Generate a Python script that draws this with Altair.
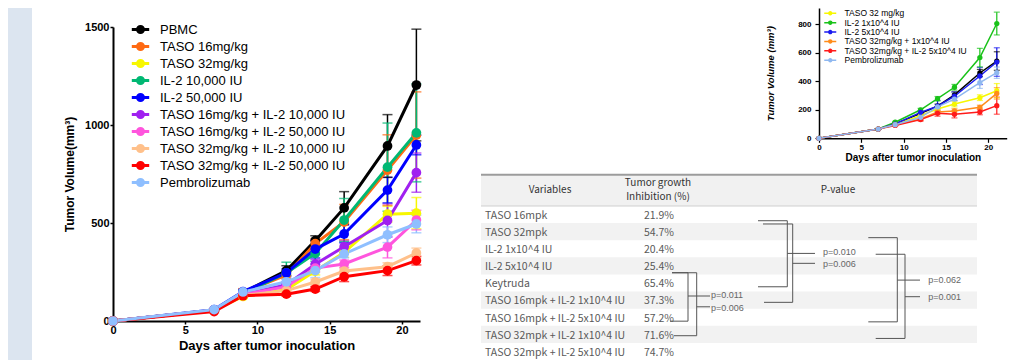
import altair as alt
import pandas as pd

# ---------------- data ----------------
DAYS = [0, 7, 9, 12, 14, 16, 19, 21]

MAIN_GROUPS = ["PBMC", "TASO 16mg/kg", "TASO 32mg/kg", "IL-2 10,000 IU", "IL-2 50,000 IU",
               "TASO 16mg/kg + IL-2 10,000 IU", "TASO 16mg/kg + IL-2 50,000 IU",
               "TASO 32mg/kg + IL-2 10,000 IU", "TASO 32mg/kg + IL-2 50,000 IU", "Pembrolizumab"]
MAIN_COLORS = ["#000000", "#ff6a13", "#f7f700", "#00b873", "#0000ff",
               "#a020f0", "#ff55dd", "#ffc08a", "#ff0000", "#8fbfff"]
MAIN_MEAN = [
    [0, 55, 145, 257, 410, 577, 893, 1204],
    [0, 55, 145, 235, 395, 505, 770, 949],
    [0, 55, 125, 160, 255, 350, 545, 550],
    [0, 55, 140, 245, 345, 515, 785, 960],
    [0, 58, 150, 246, 367, 444, 668, 898],
    [0, 55, 135, 185, 290, 379, 513, 757],
    [0, 55, 135, 175, 270, 291, 377, 515],
    [0, 55, 130, 155, 199, 255, 277, 347],
    [0, 48, 129, 137, 163, 226, 257, 308],
    [0, 58, 148, 200, 257, 342, 440, 495],
]
MAIN_SEM = [
    [0, 5, 15, 25, 25, 83, 160, 285],
    [0, 5, 20, 20, 25, 90, 180, 220],
    [0, 5, 10, 15, 20, 25, 40, 80],
    [0, 5, 15, 55, 40, 110, 225, 250],
    [0, 5, 10, 20, 45, 45, 65, 50],
    [0, 5, 10, 15, 25, 30, 85, 100],
    [0, 5, 10, 15, 20, 20, 55, 50],
    [0, 5, 10, 10, 15, 20, 20, 25],
    [0, 5, 8, 10, 12, 25, 25, 22],
    [0, 5, 10, 15, 35, 20, 40, 45],
]

SMALL_GROUPS = ["PBMC", "TASO 32 mg/kg", "IL-2 1x10^4 IU", "IL-2 5x10^4 IU",
                "TASO 32mg/kg + 1x10^4 IU", "TASO 32mg/kg + IL-2 5x10^4 IU", "Pembrolizumab"]
SMALL_COLORS = ["#000000", "#f7f700", "#19c219", "#1a1af0", "#ff8c1a", "#ff1a1a", "#8fb8f0"]
SMALL_MEAN = [
    [0, 65, 100, 175, 225, 305, 458, 542],
    [0, 65, 95, 160, 205, 240, 285, 334],
    [0, 65, 113, 200, 278, 358, 566, 805],
    [0, 65, 100, 182, 225, 295, 437, 535],
    [0, 65, 95, 135, 185, 192, 217, 315],
    [0, 65, 90, 131, 175, 168, 185, 229],
    [0, 65, 95, 147, 220, 275, 390, 460],
]
SMALL_SEM = [
    [0, 3, 5, 10, 15, 20, 25, 65],
    [0, 3, 5, 10, 15, 20, 20, 50],
    [0, 3, 5, 10, 15, 20, 65, 80],
    [0, 3, 5, 10, 40, 30, 60, 100],
    [0, 3, 5, 10, 15, 15, 15, 40],
    [0, 3, 5, 10, 20, 25, 20, 60],
    [0, 3, 5, 10, 15, 45, 40, 40],
]

TABLE_VARIABLES = ["TASO 16mpk", "TASO 32mpk", "IL-2 1x10^4 IU", "IL-2 5x10^4 IU", "Keytruda",
                   "TASO 16mpk + IL-2 1x10^4 IU", "TASO 16mpk + IL-2 5x10^4 IU",
                   "TASO 32mpk + IL-2 1x10^4 IU", "TASO 32mpk + IL-2 5x10^4 IU"]
TABLE_TGI = ["21.9%", "54.7%", "20.4%", "25.4%", "65.4%", "37.3%", "57.2%", "71.6%", "74.7%"]

P_LABELS = ["p=0.011", "p=0.006", "p=0.010", "p=0.006", "p=0.062", "p=0.001"]
BRACKET_TOP = [4.4, 4.4, 1.36, 1.55, 2.35, 3.32]
BRACKET_BOTTOM = [7.23, 8.08, 5.22, 6.13, 7.27, 8.24]
BRACKET_MID = [5.76, 6.39, 3.27, 3.85, 4.83, 5.8]

# ---------------- layout constants ----------------
FONT = "Liberation Sans"
TFONT = "Noto Sans CJK KR"
# bracket geometry (table x units): left end top, left end bottom, vertical, tick end, label x
BR_GEOM = [(191, 189, 207, 229, 230), (191, 193, 215.7, 229, 230),
           (277, 277, 306.3, 334, 342), (282, 283, 311.7, 334, 342),
           (387.3, 387.3, 416.3, 439, 447.3), (394.7, 394.7, 424, 439, 447.3)]
LABEL_NUDGE = [-0.05, 0.05, -0.06, 0.06, 0.0, 0.0]


def long_df(groups, means, sems):
    rows = []
    for gi, g in enumerate(groups):
        for d, m, s in zip(DAYS, means[gi], sems[gi]):
            rows.append({"group": g, "order": gi, "day": d, "mean": m,
                         "lo": m - s, "hi": m + s, "sem": s})
    return pd.DataFrame(rows)


def series_layers(df, groups, colors, xd, xr, yd, yr, xaxis, yaxis, legend,
                  line_w, pt_size, cap_w, err_w):
    def xs():
        return alt.Scale(domain=xd, range=xr, nice=False, zero=False)

    def ys():
        return alt.Scale(domain=yd, range=yr, nice=False, zero=False)

    def cs():
        return alt.Scale(domain=groups, range=colors)

    base = alt.Chart(df)
    err = base.transform_filter("datum.sem > 0")
    rules = err.mark_rule(strokeWidth=err_w).encode(
        x=alt.X("day:Q", scale=xs(), axis=xaxis),
        y=alt.Y("lo:Q", scale=ys(), axis=yaxis),
        y2="hi:Q",
        color=alt.Color("group:N", scale=cs(), legend=None))
    cap_hi = err.mark_tick(orient="horizontal", size=cap_w, thickness=err_w).encode(
        x=alt.X("day:Q", scale=xs(), axis=None), y=alt.Y("hi:Q", scale=ys(), axis=None),
        color=alt.Color("group:N", scale=cs(), legend=None))
    cap_lo = err.mark_tick(orient="horizontal", size=cap_w, thickness=err_w).encode(
        x=alt.X("day:Q", scale=xs(), axis=None), y=alt.Y("lo:Q", scale=ys(), axis=None),
        color=alt.Color("group:N", scale=cs(), legend=None))
    line = base.mark_line(strokeWidth=line_w).encode(
        x=alt.X("day:Q", scale=xs(), axis=None), y=alt.Y("mean:Q", scale=ys(), axis=None),
        color=alt.Color("group:N", scale=cs(), legend=legend))
    pts = base.mark_circle(size=pt_size, opacity=1).encode(
        x=alt.X("day:Q", scale=xs(), axis=None), y=alt.Y("mean:Q", scale=ys(), axis=None),
        color=alt.Color("group:N", scale=cs(), legend=None))
    return [rules, cap_hi, cap_lo, line, pts]


# ---------------- main chart ----------------
main_df = long_df(MAIN_GROUPS, MAIN_MEAN, MAIN_SEM)
PATH_MAIN = ("M-2,0H2M0.69,0A0.69,0.69,0,1,1,-0.69,0A0.69,0.69,0,1,1,0.69,0"
             "M0.345,0A0.345,0.345,0,1,1,-0.345,0A0.345,0.345,0,1,1,0.345,0")
main_axis_common = dict(labelFont=FONT, labelFontSize=11, labelFontWeight="bold", labelColor="black",
                        titleFont=FONT, titleFontWeight="bold", titleColor="black",
                        domainColor="black", domainWidth=2, tickColor="black", tickWidth=1.5,
                        tickSize=3, grid=False, labelFlush=False, labelOverlap=False, format="d")
main_layers = series_layers(
    main_df, MAIN_GROUPS, MAIN_COLORS,
    [0, 21.25], [105, 412], [0, 1500], [313, 19],
    alt.Axis(orient="bottom", offset=-39, values=[0, 5, 10, 15, 20], title="Days after tumor inoculation",
             titleFontSize=13, titlePadding=4, labelPadding=0, **main_axis_common),
    alt.Axis(orient="left", offset=-105, values=[0, 500, 1000, 1500], title="Tumor Volume(mm³)",
             titleFontSize=12, titlePadding=8, labelPadding=1, **main_axis_common),
    alt.Legend(orient="none", legendX=126, legendY=15, title=None, symbolType=PATH_MAIN,
               symbolSize=75.7, symbolStrokeWidth=3, labelFont=FONT, labelFontSize=13,
               labelColor="black", labelOffset=13, rowPadding=-2, labelLimit=400, padding=0),
    line_w=3, pt_size=95, cap_w=10, err_w=1.5)

# ---------------- small chart ----------------
small_df = long_df(SMALL_GROUPS, SMALL_MEAN, SMALL_SEM)
PATH_SMALL = ("M-2,0H2M0.5,0A0.5,0.5,0,1,1,-0.5,0A0.5,0.5,0,1,1,0.5,0"
              "M0.2,0A0.2,0.2,0,1,1,-0.2,0A0.2,0.2,0,1,1,0.2,0")
small_axis_common = dict(labelFont=FONT, labelFontSize=8, labelFontWeight="bold", labelColor="black",
                         titleFont=FONT, titleFontWeight="bold", titleColor="black",
                         domainColor="black", domainWidth=1.5, tickColor="black", tickWidth=1.2,
                         tickSize=4, grid=False, labelFlush=False, labelOverlap=False, format="d")
small_layers = series_layers(
    small_df, SMALL_GROUPS, SMALL_COLORS,
    [0, 22.17], [811, 998.7], [0, 914], [130.3, 0],
    alt.Axis(orient="bottom", offset=-221.7, values=[0, 5, 10, 15, 20], title="Days after tumor inoculation",
             titleFontSize=10, titlePadding=1, labelPadding=1, **small_axis_common),
    alt.Axis(orient="left", offset=-811, values=[0, 200, 400, 600, 800], title="Tumor Volume (mm³)",
             titleFontSize=9.5, titleFontStyle="italic", titlePadding=22, labelPadding=4,
             **small_axis_common),
    alt.Legend(orient="none", legendX=818, legendY=1, title=None, values=SMALL_GROUPS[1:],
               symbolType=PATH_SMALL, symbolSize=36, symbolStrokeWidth=1.5, labelFont=FONT,
               labelFontSize=8.5, labelColor="black", labelOffset=10, rowPadding=-0.6,
               labelLimit=400, padding=0),
    line_w=1.5, pt_size=28, cap_w=6, err_w=1.2)

# ---------------- table ----------------
def tx():
    return alt.Scale(domain=[0, 496], range=[473, 969], nice=False, zero=False)


def ty():
    return alt.Scale(domain=[-1.371, 9.5], range=[166, 352], nice=False, zero=False)


one = alt.Chart(pd.DataFrame({"k": [0]}))
tbl_df = pd.DataFrame({"row": list(range(1, len(TABLE_VARIABLES) + 1)),
                       "var": TABLE_VARIABLES, "tgi": TABLE_TGI})
tbl = alt.Chart(tbl_df)

header_band = one.mark_rect(color="#f1f1f1").encode(
    x=alt.XDatum(0, scale=tx(), axis=None), x2=alt.X2Datum(496),
    y=alt.YDatum(-1.371, scale=ty(), axis=None), y2=alt.Y2Datum(0.5))
shade = tbl.transform_filter("datum.row % 2 == 0").transform_calculate(
    y0="datum.row - 0.5", y1="datum.row + 0.5").mark_rect(color="#f2f2f2").encode(
    x=alt.XDatum(0, scale=tx(), axis=None), x2=alt.X2Datum(496),
    y=alt.Y("y0:Q", scale=ty(), axis=None), y2="y1:Q")
top_line = one.mark_rule(color="#9c9c9c", strokeWidth=2).encode(
    x=alt.XDatum(0, scale=tx(), axis=None), x2=alt.X2Datum(496),
    y=alt.YDatum(-1.33, scale=ty(), axis=None))
head_line = one.mark_rule(color="#cfcfcf", strokeWidth=1).encode(
    x=alt.XDatum(0, scale=tx(), axis=None), x2=alt.X2Datum(496),
    y=alt.YDatum(0.5, scale=ty(), axis=None))


def head_text(txt, xv, yv):
    return one.mark_text(font=TFONT, fontSize=10, color="#333333", baseline="middle").encode(
        x=alt.XDatum(xv, scale=tx(), axis=None), y=alt.YDatum(yv, scale=ty(), axis=None),
        text=alt.value(txt))


var_text = tbl.transform_calculate(ty="datum.row + 0.08").mark_text(
    font=TFONT, fontSize=10.5, color="#595959", align="left", baseline="middle").encode(
    x=alt.XDatum(4, scale=tx(), axis=None), y=alt.Y("ty:Q", scale=ty(), axis=None), text="var:N")
tgi_text = tbl.transform_calculate(ty="datum.row + 0.08").mark_text(
    font=TFONT, fontSize=10.5, color="#595959", align="center", baseline="middle").encode(
    x=alt.XDatum(178, scale=tx(), axis=None), y=alt.Y("ty:Q", scale=ty(), axis=None), text="tgi:N")

segs = []
labs = []
for (xlt, xlb, xv, xt, xl), t, b, m, p, nd in zip(BR_GEOM, BRACKET_TOP, BRACKET_BOTTOM,
                                                 BRACKET_MID, P_LABELS, LABEL_NUDGE):
    segs += [{"x": xlt, "x2": xv, "y": t, "y2": t},
             {"x": xv, "x2": xv, "y": t, "y2": b},
             {"x": xlb, "x2": xv, "y": b, "y2": b},
             {"x": xv, "x2": xt, "y": m, "y2": m}]
    labs.append({"x": xl, "y": m + nd, "p": p})
bracket_lines = alt.Chart(pd.DataFrame(segs)).mark_rule(color="#555555", strokeWidth=1).encode(
    x=alt.X("x:Q", scale=tx(), axis=None), x2="x2:Q",
    y=alt.Y("y:Q", scale=ty(), axis=None), y2="y2:Q")
bracket_labels = alt.Chart(pd.DataFrame(labs)).mark_text(
    font=FONT, fontSize=9, color="#666666", align="left", baseline="middle").encode(
    x=alt.X("x:Q", scale=tx(), axis=None), y=alt.Y("y:Q", scale=ty(), axis=None), text="p:N")

table_layers = [header_band, shade, top_line, head_line,
                head_text("Variables", 69, -0.44), head_text("Tumor growth", 177, -0.85),
                head_text("Inhibition (%)", 177, -0.03), head_text("P-value", 357, -0.44),
                var_text, tgi_text, bracket_lines, bracket_labels]

# ---------------- left strip ----------------
strip = one.mark_rect(color="#dce5f0").encode(
    x=alt.value(0), x2=alt.value(24), y=alt.value(0), y2=alt.value(352))

chart = alt.layer(strip, *table_layers, *small_layers, *main_layers).resolve_scale(
    x="independent", y="independent", color="independent"
).resolve_axis(x="independent", y="independent").resolve_legend(color="independent").properties(
    width=1003, height=352, autosize=alt.AutoSizeParams(type="none"), padding=0
).configure_view(stroke=None)

chart.save("out.html", embed_options={"renderer": "svg", "actions": False})
